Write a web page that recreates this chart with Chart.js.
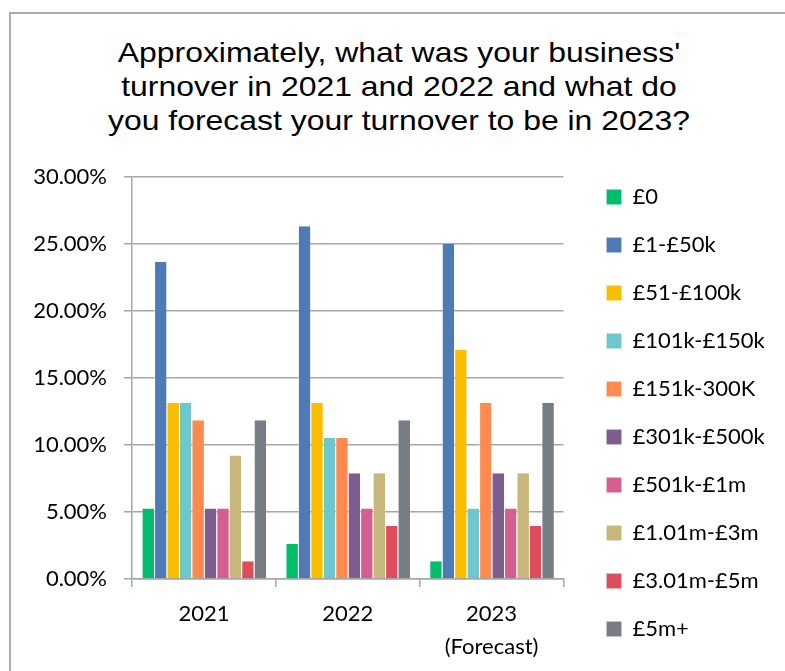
<!DOCTYPE html>
<html>
<head>
<meta charset="utf-8">
<title>Business turnover 2021–2023</title>
<script src="https://cdn.jsdelivr.net/npm/chart.js@4/dist/chart.umd.min.js"></script>
<style>
  html, body { margin: 0; padding: 0; background: #fff; overflow: hidden; }
  #wrap { position: relative; width: 785px; height: 671px; }
  #frame {
    position: absolute; left: 9px; top: 12px; width: 900px; height: 900px;
    border-left: 2px solid #ababab; border-top: 2px solid #ababab;
  }
  #title {
    position: absolute; left: 0; top: 36px; width: 798px; text-align: center;
    font-family: "Liberation Sans", Arial, sans-serif; font-size: 28px;
    line-height: 34px; color: #000;
    transform: scaleX(1.14); transform-origin: 399px 0;
  }
  canvas { position: absolute; left: 0; top: 0; }
</style>
</head>
<body>
<div id="wrap">
  <div id="frame"></div>
  <div id="title">Approximately, what was your business'<br>turnover in 2021 and 2022 and what do<br>you forecast your turnover to be in 2023?</div>
  <canvas id="chart" width="785" height="671"></canvas>
</div>
<script>
// Survey years on the category axis
const years = ['2021', '2022', ['2023', '(Forecast)']];

// Turnover bands (legend order)
const bands = ['£0', '£1-£50k', '£51-£100k', '£101k-£150k', '£151k-300K',
               '£301k-£500k', '£501k-£1m', '£1.01m-£3m', '£3.01m-£5m', '£5m+'];

// Share of respondents (%) per band, one value per year: 2021, 2022, 2023 forecast
const band0        = [5.26, 2.63, 1.32];
const band1_50k    = [23.68, 26.32, 25.00];
const band51_100k  = [13.16, 13.16, 17.11];
const band101_150k = [13.16, 10.53, 5.26];
const band151_300k = [11.84, 10.53, 13.16];
const band301_500k = [5.26, 7.89, 7.89];
const band501k_1m  = [5.26, 5.26, 5.26];
const band1_3m     = [9.21, 7.89, 7.89];
const band3_5m     = [1.32, 3.95, 3.95];
const band5mPlus   = [11.84, 11.84, 13.16];

const bandValues = [band0, band1_50k, band51_100k, band101_150k, band151_300k,
                    band301_500k, band501k_1m, band1_3m, band3_5m, band5mPlus];

const bandColors = ['#00BE6B', '#4F7BB5', '#FABE00', '#6CC8CC', '#FF8A4F',
                    '#7E5E90', '#D45F8F', '#C8B77A', '#DE4D5D', '#767D85'];

// Y axis tick values (%)
const yTicks = [0, 5, 10, 15, 20, 25, 30];

const gridColor = '#A6A6A6';
const labelFont = { family: 'Lato, "Open Sans", sans-serif', size: 22, lineHeight: 1.5 };

// Leaves a blank strip between the plot area and the legend
const legendGap = {
  id: 'legendGap',
  beforeLayout(chart, args, opts) {
    const lg = chart.legend;
    if (lg && !lg._gapWrapped) {
      const fit = lg.fit;
      lg.fit = function () { fit.call(this); this.width += opts.gap; };
      lg._gapWrapped = true;
    }
  },
  afterLayout(chart, args, opts) {
    if (chart.legend) chart.legend.left += opts.gap;
  }
};

const datasets = bands.map((name, i) => ({
  label: name,
  data: bandValues[i],
  backgroundColor: bandColors[i],
  borderColor: 'rgba(255,255,255,0.45)',
  borderWidth: { left: 1, right: 0, top: 0, bottom: 0 },
  borderSkipped: false,
  categoryPercentage: 0.866,
  barPercentage: 1.0
}));

new Chart(document.getElementById('chart'), {
  type: 'bar',
  data: { labels: years, datasets },
  plugins: [legendGap],
  options: {
    responsive: false,
    animation: false,
    layout: { padding: { left: 0, top: 0, right: 11, bottom: 5 } },
    plugins: {
      legendGap: { gap: 17 },
      tooltip: { enabled: false },
      // empty spacer above the plot; the heading is set in the page
      title: {
        display: true, text: '', fullSize: false,
        font: { size: 12, lineHeight: 1 },
        padding: { top: 165, bottom: 0 }
      },
      legend: {
        position: 'right',
        align: 'end',
        labels: {
          boxWidth: 15,
          boxHeight: 15,
          padding: 26,
          color: '#000',
          font: { family: 'Lato, "Open Sans", sans-serif', size: 22 }
        }
      }
    },
    scales: {
      x: {
        grid: {
          display: true, drawOnChartArea: false, drawTicks: true,
          tickLength: 8, color: gridColor, lineWidth: 1.5
        },
        border: { display: true, color: gridColor, width: 1.5 },
        ticks: { color: '#000', font: labelFont, padding: 10, maxRotation: 0 },
        afterFit: s => { s.height = 87; }
      },
      y: {
        min: 0, max: 30,
        afterBuildTicks: s => { s.ticks = yTicks.map(v => ({ value: v })); },
        grid: { color: gridColor, lineWidth: 1.5, tickLength: 8 },
        border: { display: true, color: gridColor, width: 1.5 },
        ticks: {
          color: '#000', font: labelFont, padding: 17,
          callback: v => Number(v).toFixed(2) + '%'
        },
        afterFit: s => { s.width = 132; }
      }
    }
  }
});
</script>
</body>
</html>
